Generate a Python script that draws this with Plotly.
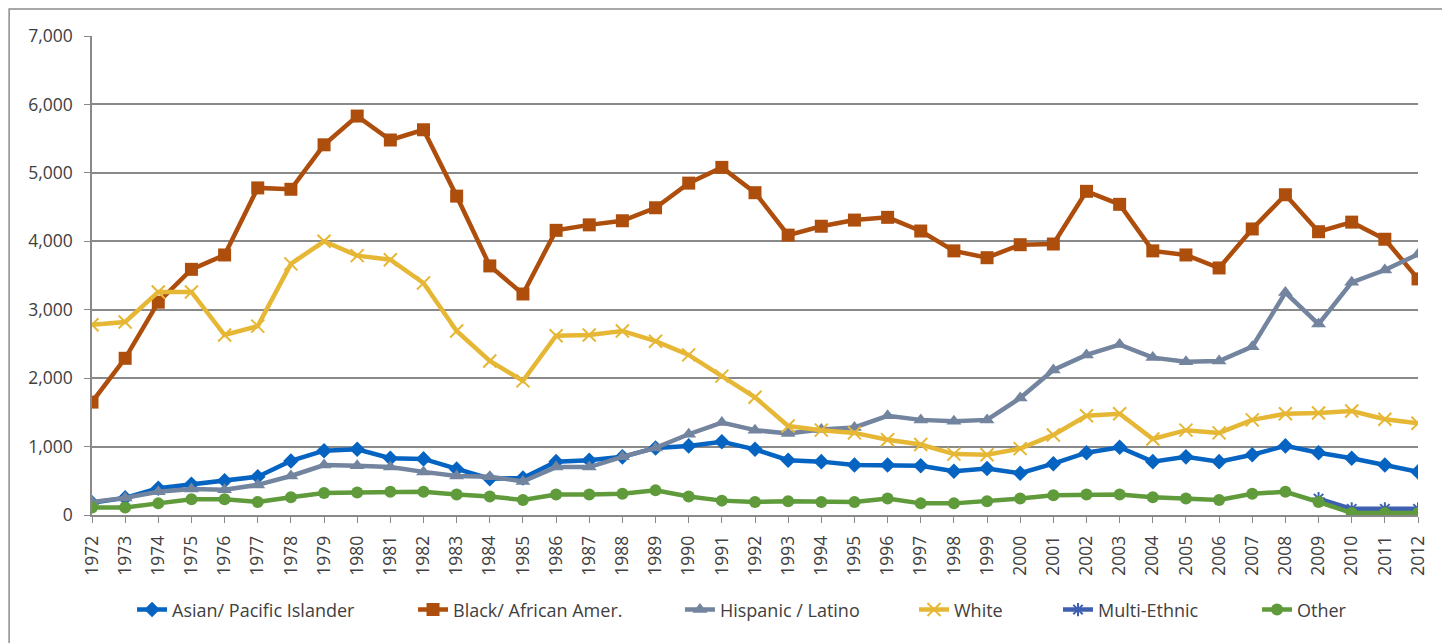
import plotly.graph_objects as go

years = list(range(1972, 2013))

asian = [180, 250, 390, 450, 500, 560, 790, 940, 960, 830, 820, 670, 530, 540, 780, 800, 850, 980,
         1010, 1070, 960, 800, 780, 730, 730, 720, 640, 680, 610, 750, 910, 990, 780, 850, 780, 880,
         1010, 910, 830, 730, 630]
black = [1650, 2290, 3110, 3590, 3800, 4780, 4760, 5410, 5830, 5480, 5630, 4660, 3640, 3230, 4160,
         4240, 4300, 4490, 4850, 5080, 4710, 4090, 4220, 4310, 4350, 4150, 3860, 3760, 3950, 3960,
         4730, 4540, 3860, 3800, 3610, 4180, 4680, 4140, 4280, 4030, 3450]
hispanic = [190, 250, 340, 380, 370, 440, 570, 730, 720, 700, 630, 570, 560, 490, 700, 700, 850, 980,
            1180, 1350, 1240, 1190, 1250, 1280, 1450, 1390, 1370, 1390, 1710, 2120, 2340, 2490, 2300,
            2240, 2250, 2460, 3250, 2790, 3400, 3580, 3810]
white = [2780, 2820, 3260, 3260, 2630, 2760, 3670, 4000, 3790, 3730, 3390, 2690, 2250, 1960, 2620,
         2630, 2690, 2540, 2340, 2030, 1720, 1300, 1240, 1200, 1100, 1030, 890, 880, 970, 1170, 1450,
         1480, 1110, 1240, 1200, 1390, 1480, 1490, 1520, 1400, 1340]
multi = [None] * 37 + [240, 90, 90, 90]
other = [110, 110, 170, 230, 230, 190, 260, 320, 330, 340, 340, 300, 270, 220, 300, 300, 310, 360,
         270, 210, 190, 200, 190, 190, 240, 170, 170, 200, 240, 290, 300, 300, 260, 240, 220, 310,
         340, 190, 30, 30, 30]

series = [
    ("Asian/ Pacific Islander", asian, "#0563C1", "diamond", 12),
    ("Black/ African Amer.", black, "#AE4E0C", "square", 13),
    ("Hispanic / Latino", hispanic, "#73849F", "triangle-up", 13),
    ("White", white, "#E6B735", "x-thin", 13),
    ("Multi-Ethnic", multi, "#3F60B0", "asterisk", 11),
    ("Other", other, "#5F9A3B", "circle", 12),
]
legend_x = [0.0302, 0.2421, 0.4434, 0.6199, 0.7285, 0.8786]

fig = go.Figure()
legend_layout = {}
for i, (name, vals, color, sym, size) in enumerate(series):
    open_sym = sym in ("x-thin", "asterisk")
    lname = "legend" if i == 0 else f"legend{i + 1}"
    fig.add_trace(go.Scatter(
        x=years, y=vals, name=name, mode="lines+markers",
        line=dict(color=color, width=4.5),
        marker=dict(symbol=sym, size=size, color=color,
                    line=dict(color=color, width=2 if open_sym else 0)),
        connectgaps=False, legend=lname,
    ))
    legend_layout[lname] = dict(orientation="h", x=legend_x[i], xanchor="left",
                                y=-0.198, yanchor="middle", bgcolor="rgba(0,0,0,0)",
                                font=dict(family="Open Sans", size=18, color="#404040"))

fig.update_layout(
    width=1442, height=635,
    margin=dict(l=84, r=32, t=28, b=128),
    paper_bgcolor="white", plot_bgcolor="white",
    font=dict(family="Open Sans", size=17, color="#404040"),
    showlegend=True,
    xaxis=dict(range=[1972, 2012], tickmode="array", tickvals=years,
               ticktext=[str(y) for y in years], tickangle=-90,
               showgrid=False, zeroline=False, showline=True, linecolor="#898989", linewidth=1.5,
               ticks="outside", ticklen=6, tickcolor="#898989", ticklabelstandoff=6,
               tickfont=dict(size=17.5, color="#404040")),
    yaxis=dict(range=[0, 7000], tickmode="array", tickvals=list(range(0, 7001, 1000)),
               tickformat=",", showgrid=True, gridcolor="#898989", gridwidth=1.5,
               zeroline=False, showline=True, linecolor="#898989", linewidth=1.5,
               ticks="outside", ticklen=6, tickcolor="#898989", ticklabelstandoff=8,
               tickfont=dict(size=17.5, color="#404040")),
    **legend_layout,
)

fig.add_shape(type="rect", xref="paper", yref="paper",
              x0=-0.0625, x1=1.0219, y0=-0.3, y1=1.0564,
              line=dict(color="#8C8C8C", width=1.5), fillcolor="rgba(0,0,0,0)", layer="below")

fig.write_html("out.html")
